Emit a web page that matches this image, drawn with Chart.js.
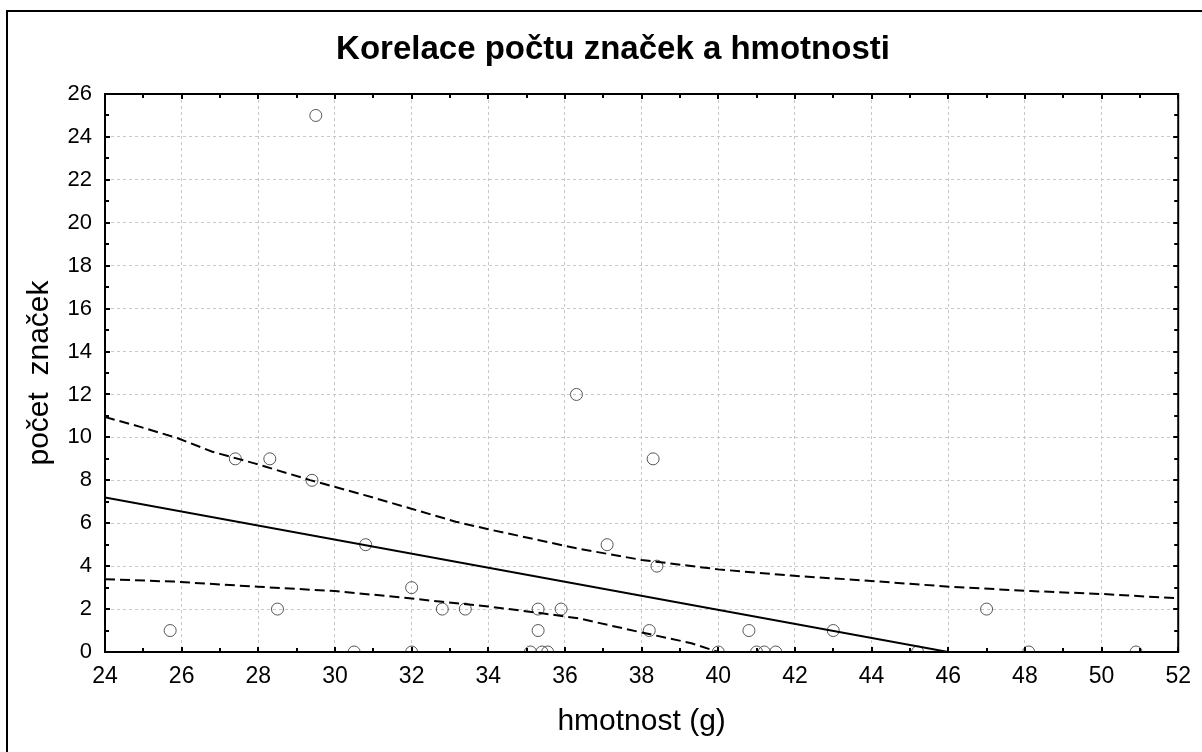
<!DOCTYPE html>
<html>
<head>
<meta charset="utf-8">
<script src="https://cdn.jsdelivr.net/npm/chart.js@4"></script>
<style>
  html, body { margin: 0; padding: 0; background: #fff; }
  #wrap { width: 1202px; height: 752px; }
</style>
</head>
<body>
<div id="wrap"><canvas id="chart" width="1202" height="752"></canvas></div>
<script>
// observed values: weight (g) vs. number of marks
const massX  = [25.7, 27.4, 28.3, 28.5, 29.4, 29.5, 30.5, 30.8, 32.0, 32.0, 32.8, 33.4, 35.1, 35.3, 35.3, 35.4, 35.55,
                35.9, 36.3, 37.1, 38.2, 38.3, 38.4, 40.0, 40.8, 41.0, 41.2, 41.5, 43.0, 45.2, 47.0, 48.1, 50.9];
const countY = [1, 9, 9, 2, 8, 25, 0, 5, 3, 0, 2, 2, 0, 2, 1, 0, 0,
                2, 12, 5, 1, 9, 4, 0, 1, 0, 0, 0, 1, 0, 2, 0, 0];

// regression line
const fitX = [24, 46];
const fitY = [7.2, 0];

// 95% confidence band
const upperX = [24, 24.9, 25.9, 26.8, 27.9, 29.35, 30.75, 31.95, 33.15, 34, 35.3, 36.3, 38, 40, 41.9, 43.6, 46.05, 48.15, 50.05, 52];
const upperY = [10.95, 10.5, 9.96, 9.33, 8.79, 8.01, 7.32, 6.7, 6.07, 5.72, 5.22, 4.83, 4.29, 3.85, 3.56, 3.36, 3.04, 2.84, 2.7, 2.5];
const lowerX = [24, 25.8, 28, 30, 31.8, 32.8, 34, 35.3, 36.35, 38.1, 39.3, 40];
const lowerY = [3.39, 3.28, 3.04, 2.84, 2.53, 2.34, 2.12, 1.83, 1.57, 0.87, 0.41, 0];

const xTicks = [24, 26, 28, 30, 32, 34, 36, 38, 40, 42, 44, 46, 48, 50, 52];
const yTicks = [0, 2, 4, 6, 8, 10, 12, 14, 16, 18, 20, 22, 24, 26];

const toPts = (xs, ys) => xs.map((x, i) => ({x: x, y: ys[i]}));
const FONT = "'Liberation Sans', Arial, sans-serif";

// box round the plot, inward ticks on all four sides, outer frame
const framePlugin = {
  id: 'frame',
  beforeDraw(chart) {
    const ctx = chart.ctx;
    ctx.save();
    ctx.strokeStyle = '#000';
    ctx.lineWidth = 2;
    ctx.strokeRect(7, 11, chart.width + 20, chart.height + 20);
    ctx.restore();
  },
  afterDatasetsDraw(chart) {
    const {ctx, chartArea: a, scales} = chart;
    const xs = scales.x, ys = scales.y;
    ctx.save();
    ctx.strokeStyle = '#000';
    ctx.lineWidth = 2;
    ctx.strokeRect(a.left, a.top, a.right - a.left, a.bottom - a.top);
    ctx.beginPath();
    for (let v = xs.min; v <= xs.max; v += 1) {
      const px = Math.round(xs.getPixelForValue(v));
      const len = v % 2 === 0 ? 5 : 4;
      ctx.moveTo(px, a.bottom); ctx.lineTo(px, a.bottom - len);
      ctx.moveTo(px, a.top); ctx.lineTo(px, a.top + len);
    }
    for (let v = ys.min; v <= ys.max; v += 1) {
      const py = Math.round(ys.getPixelForValue(v));
      const len = v % 2 === 0 ? 5 : 4;
      ctx.moveTo(a.left, py); ctx.lineTo(a.left + len, py);
      ctx.moveTo(a.right, py); ctx.lineTo(a.right - len, py);
    }
    ctx.stroke();
    ctx.restore();
  }
};

new Chart(document.getElementById('chart'), {
  type: 'scatter',
  data: {
    datasets: [
      {
        type: 'line',
        data: toPts(fitX, fitY),
        borderColor: '#000',
        borderWidth: 2,
        pointRadius: 0,
        fill: false,
        clip: 0
      },
      {
        type: 'line',
        data: toPts(upperX, upperY),
        borderColor: '#000',
        borderWidth: 2,
        borderDash: [10, 5],
        pointRadius: 0,
        fill: false,
        clip: 0
      },
      {
        type: 'line',
        data: toPts(lowerX, lowerY),
        borderColor: '#000',
        borderWidth: 2,
        borderDash: [10, 5],
        pointRadius: 0,
        fill: false,
        clip: 0
      },
      {
        data: toPts(massX, countY),
        pointStyle: 'circle',
        pointRadius: 6,
        pointBorderWidth: 1,
        pointBorderColor: '#555',
        pointBackgroundColor: 'rgba(0,0,0,0)',
        clip: 0
      }
    ]
  },
  options: {
    responsive: false,
    animation: false,
    events: [],
    layout: { padding: { left: 43, right: 19, top: 0, bottom: 0 } },
    plugins: {
      legend: { display: false },
      tooltip: { enabled: false },
      title: {
        display: true,
        text: 'Korelace počtu značek a hmotnosti',
        color: '#000',
        font: { family: FONT, size: 33, weight: 'bold' },
        padding: { top: 30.2, bottom: 24.2 }
      }
    },
    scales: {
      x: {
        type: 'linear',
        min: 24,
        max: 52,
        afterBuildTicks: s => { s.ticks = xTicks.map(v => ({value: v})); },
        afterFit: s => { s.height = 100; },
        ticks: { color: '#000', padding: 11, font: { family: FONT, size: 23 } },
        grid: { color: '#c8c8c8', lineWidth: 1, drawTicks: false },
        border: { display: false, dash: [3, 3] },
        title: {
          display: true,
          text: 'hmotnost (g)',
          color: '#000',
          font: { family: FONT, size: 30 },
          padding: { top: 0, bottom: 12 }
        }
      },
      y: {
        type: 'linear',
        min: 0,
        max: 26,
        afterBuildTicks: s => { s.ticks = yTicks.map(v => ({value: v})); },
        afterFit: s => { s.width = 62; },
        ticks: { color: '#000', padding: 13, font: { family: FONT, size: 22 } },
        grid: { color: '#c8c8c8', lineWidth: 1, drawTicks: false },
        border: { display: false, dash: [3, 3] },
        title: {
          display: true,
          text: 'počet  značek',
          color: '#000',
          font: { family: FONT, size: 30 },
          padding: { top: -21, bottom: 0 }
        }
      }
    }
  },
  plugins: [framePlugin]
});
</script>
</body>
</html>
